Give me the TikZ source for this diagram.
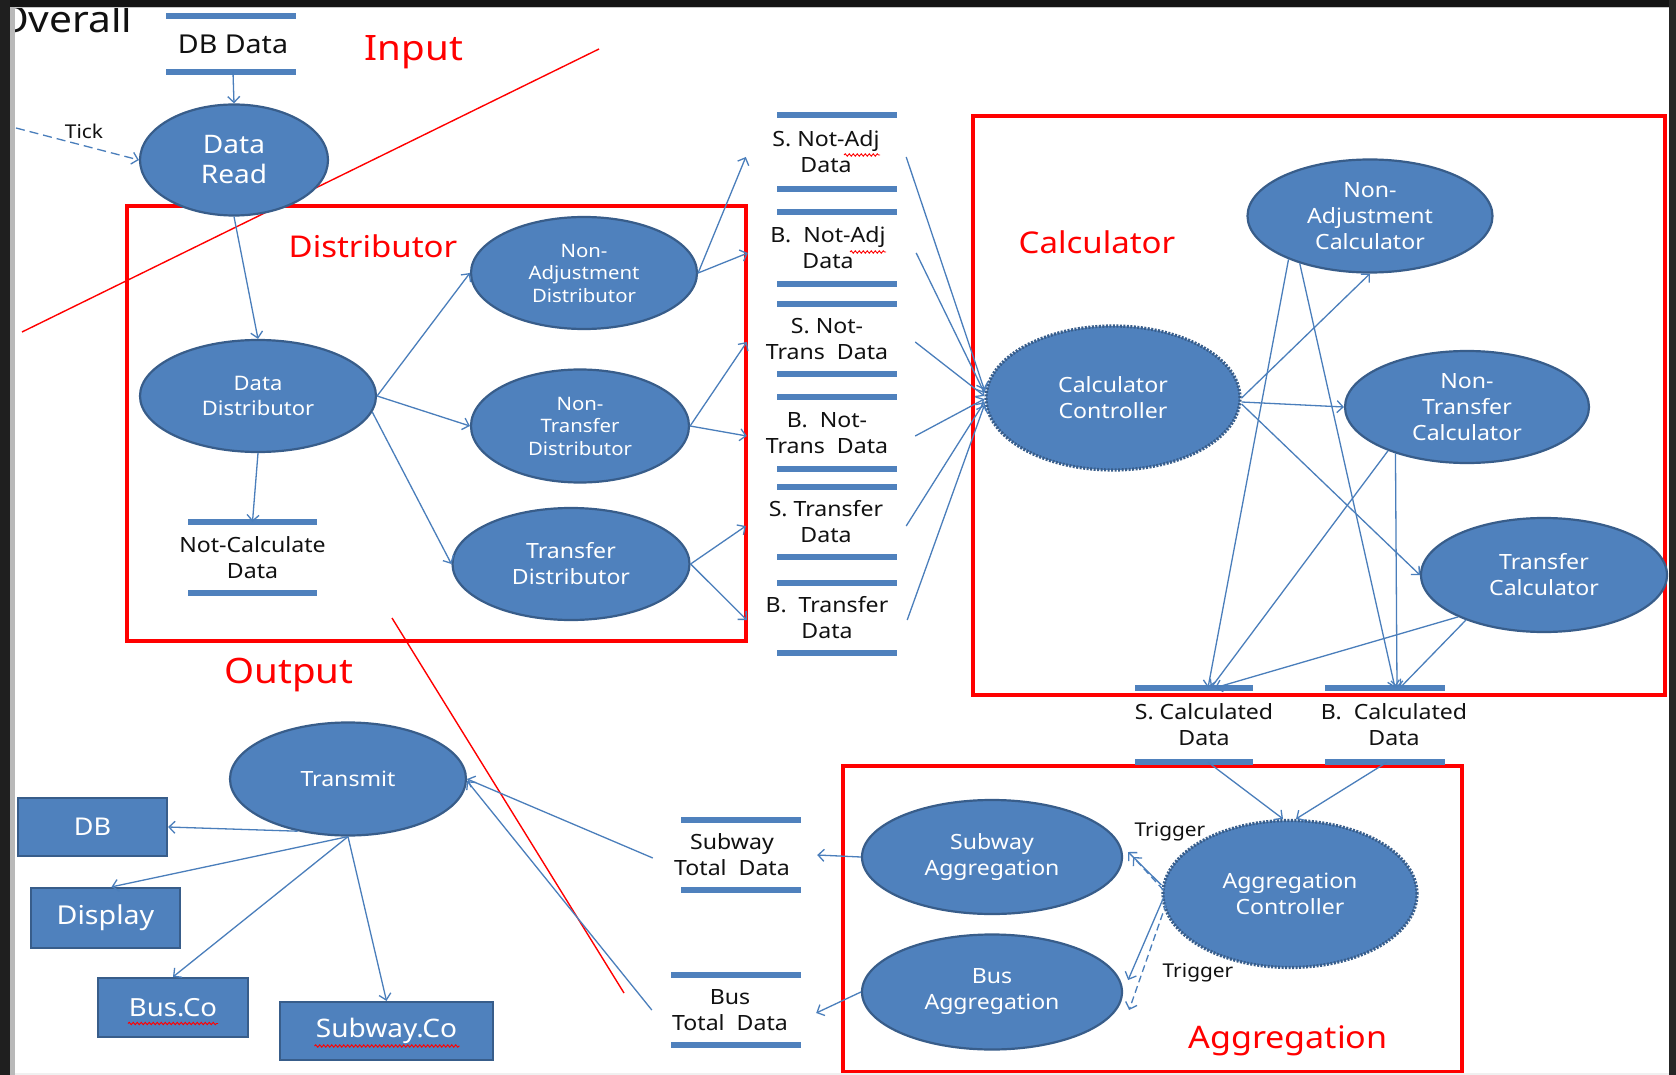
\documentclass[tikz,border=0pt]{standalone}
\usepackage{fontspec}
\setmainfont[FakeStretch=1.1]{Noto Sans}
\usetikzlibrary{shapes.geometric,arrows.meta,decorations.pathmorphing,calc}

\definecolor{procfill}{HTML}{4F81BD}
\definecolor{procedge}{HTML}{385D8A}
\definecolor{flow}{HTML}{4A7EBB}
\definecolor{zone}{HTML}{FF0000}
\definecolor{ink}{HTML}{111111}

% draws the two bars of a data store: node, x offset, half width, half gap
\newcommand\storebars[4]{%
  \draw[bar] ([shift={(#2-#3,-#4)}]#1.center) -- ([shift={(#2+#3,-#4)}]#1.center);
  \draw[bar] ([shift={(#2-#3,#4)}]#1.center) -- ([shift={(#2+#3,#4)}]#1.center);}
% red spelling squiggle below a word
\newcommand\squiggle[3]{%
  \draw[spell] ([shift={#2}]#1.center) -- ([shift={#3}]#1.center);}

\tikzset{
  proc/.style={ellipse, fill=procfill, draw=procedge, line width=2.2pt,
    text=white, inner sep=0pt, align=center},
  ctrl/.style={proc, dash pattern=on 2pt off 1.5pt, line width=3.2pt},
  sink/.style={rectangle, fill=procfill, draw=procedge, line width=2.2pt,
    text=white, inner sep=0pt},
  store/.style={align=center, text=ink, inner sep=0pt},
  bar/.style={draw=procfill, line width=5.5pt},
  flowline/.style={draw=flow, line width=1.3pt,
    -{Straight Barb[length=6pt,width=12pt]}},
  trigline/.style={flowline, dash pattern=on 7pt off 4pt},
  zonebox/.style={draw=zone, line width=3.5pt},
  zoneline/.style={draw=zone, line width=1.4pt},
  zonelabel/.style={text=zone, inner sep=0pt, anchor=base},
  spell/.style={draw=zone, line width=0.9pt, decorate,
    decoration={snake, amplitude=1.2pt, segment length=4pt}},
  f18/.style={font=\fontsize{18.5}{22.5}\selectfont},
  f20/.style={font=\fontsize{20}{25}\selectfont},
  f21/.style={font=\fontsize{21}{26}\selectfont},
}

\begin{document}
\begin{tikzpicture}[x=1pt,y=-1pt]
\useasboundingbox (0,0) rectangle (1676,1075);
\fill[white] (0,0) rectangle (1676,1075);

% title
\node[anchor=base west, inner sep=0pt, text=ink, font=\fontsize{37}{40}\selectfont]
  (title) at (-3,33) {Overall};

% ---------- zones ----------
\draw[zonebox] (127,206) rectangle (746,641);
\draw[zonebox] (973,116) rectangle (1665,695);
\draw[zonebox] (843,766) rectangle (1462,1072);
\draw[zoneline] (22,332) -- (599,49);
\draw[zoneline] (392,618) -- (624,993);

\node[zonelabel, font=\fontsize{35}{40}\selectfont] (lin) at (414,61) {Input};
\node[zonelabel, font=\fontsize{30}{34}\selectfont] (ldist) at (373,258) {Distributor};
\node[zonelabel, font=\fontsize{30}{34}\selectfont] (lcalc) at (1097,254) {Calculator};
\node[zonelabel, font=\fontsize{35}{40}\selectfont] (lout) at (289,683) {Output};
\node[zonelabel, font=\fontsize{31}{36}\selectfont] (lagg) at (1288,1048) {Aggregation};

% ---------- processes ----------
\node[proc, minimum width=188, minimum height=111, font=\fontsize{25.5}{30}\selectfont]
  (dr) at (234,160) {Data\\Read};
\node[proc, f20, minimum width=236, minimum height=112] (dd) at (258,396) {Data\\Distributor};
\node[proc, f18, minimum width=226, minimum height=112] (nad) at (584,273) {Non-\\Adjustment\\Distributor};
\node[proc, f18, minimum width=218, minimum height=113] (ntd) at (580,426) {Non-\\Transfer\\Distributor};
\node[proc, f21, minimum width=237, minimum height=112] (td) at (571,564) {Transfer\\Distributor};

\node[ctrl, f21, minimum width=254, minimum height=144] (cc) at (1113,398) {Calculator\\Controller};
\node[proc, f21, minimum width=245, minimum height=113] (nac) at (1370,216) {Non-\\Adjustment\\Calculator};
\node[proc, f21, minimum width=244, minimum height=112] (ntc) at (1467,407) {Non-\\Transfer\\Calculator};
\node[proc, f21, minimum width=246, minimum height=114] (tc) at (1544,575) {Transfer\\Calculator};

\node[ctrl, f21, minimum width=254, minimum height=147] (ac) at (1290,894) {Aggregation\\Controller};
\node[proc, f21, minimum width=260, minimum height=114] (sag) at (992,857) {Subway\\Aggregation};
\node[proc, f21, minimum width=260, minimum height=115] (bag) at (992,992) {Bus\\Aggregation};

\node[proc, f21, minimum width=236, minimum height=113] (tr) at (348,779) {Transmit};

% ---------- external sinks ----------
\node[sink, font=\fontsize{24.5}{28}\selectfont, minimum width=149, minimum height=58] (db) at (92.5,827) {DB};
\node[sink, font=\fontsize{26}{30}\selectfont, minimum width=149, minimum height=60] (disp) at (105.5,918) {Display};
\node[sink, font=\fontsize{25}{30}\selectfont, minimum width=150, minimum height=59] (busco) at (173,1007.5) {Bus.Co};
\node[sink, font=\fontsize{25.5}{30}\selectfont, minimum width=213, minimum height=58] (subco) at (386.5,1031) {Subway.Co};
\squiggle{busco}{(-45,16)}{(45,16)}
\squiggle{subco}{(-72,15)}{(73,15)}

% ---------- data stores ----------
\node[store, font=\fontsize{26}{30}\selectfont, minimum width=130, minimum height=56] (dbd) at (233,44) {DB Data};
\storebars{dbd}{-2}{65}{28}
\node[store, f21, minimum width=129, minimum height=71] (ncd) at (252.5,557.5) {Not-Calculate\\Data};
\storebars{ncd}{0}{64.5}{35.5}

\node[store, f21, minimum width=160, minimum height=74] (sna) at (826,152) {S. Not-Adj\\Data};
\storebars{sna}{11}{60}{37}
\node[store, f21, minimum width=160, minimum height=72] (bna) at (828,248) {B.\ \ Not-Adj\\Data};
\storebars{bna}{9}{60}{36}
\node[store, f21, minimum width=160, minimum height=70] (snt) at (827,339) {S. Not-\\Trans\ \ Data};
\storebars{snt}{10}{60}{35}
\node[store, f21, minimum width=160, minimum height=72] (bnt) at (827,433) {B.\ \ Not-\\Trans\ \ Data};
\storebars{bnt}{10}{60}{36}
\node[store, f21, minimum width=160, minimum height=70] (str) at (826,522) {S. Transfer\\Data};
\storebars{str}{11}{60}{35}
\node[store, f21, minimum width=160, minimum height=70] (btr) at (827,618) {B.\ \ Transfer\\Data};
\storebars{btr}{10}{60}{35}
\squiggle{sna}{(18,3)}{(54,3)}
\squiggle{bna}{(22,4)}{(58,4)}

\node[store, f21, minimum width=118, minimum height=74] (scd) at (1204,725) {S. Calculated\\Data};
\storebars{scd}{-10}{59}{37}
\node[store, f21, minimum width=120, minimum height=74] (bcd) at (1394,725) {B.\ \ Calculated\\Data};
\storebars{bcd}{-9}{60}{37}

\node[store, f21, minimum width=170, minimum height=70] (subT) at (732,855) {Subway\\Total\ \ Data};
\storebars{subT}{9}{60}{35}
\node[store, f21, minimum width=172, minimum height=70] (busT) at (730,1010) {Bus\\Total\ \ Data};
\storebars{busT}{6}{65}{35}

% ---------- flows: input and distribution ----------
\coordinate (tickin) at (16,128);
\draw[flowline] (dbd.south) -- (dr.north);
\draw[flowline, dash pattern=on 9pt off 5pt] (tickin) -- (dr.west);
\node[text=ink, inner sep=0pt, font=\fontsize{19}{22}\selectfont] (tick) at (84,131) {Tick};
\draw[flowline] (dr.south) -- (dd.north);
\draw[flowline] (dd.south) -- (ncd.north);
\draw[flowline] (dd.east) -- (nad.west);
\draw[flowline] (dd.east) -- (ntd.west);
\draw[flowline] (dd.-8) -- (td.west);
\draw[flowline] (nad.east) -- ([yshift=-5]sna.west);
\draw[flowline] (nad.east) -- ([yshift=-5]bna.west);
\draw[flowline] (ntd.east) -- ([yshift=-3]snt.west);
\draw[flowline] (ntd.east) -- ([yshift=-3]bnt.west);
\draw[flowline] (td.east) -- ([yshift=-4]str.west);
\draw[flowline] (td.east) -- ([yshift=-2]btr.west);

% ---------- flows: calculation ----------
\draw[flowline] ([yshift=-5]sna.east) -- ([yshift=8]cc.west);
\draw[flowline] ([yshift=-5,xshift=8]bna.east) -- ([yshift=5]cc.west);
\draw[flowline] ([yshift=-3,xshift=8]snt.east) -- ([yshift=2]cc.west);
\draw[flowline] ([yshift=-3,xshift=8]bnt.east) -- ([yshift=-1]cc.west);
\draw[flowline] ([yshift=-4]str.east) -- ([yshift=-4]cc.west);
\draw[flowline] ([yshift=-2]btr.east) -- ([yshift=-7]cc.west);

\draw[flowline] (cc.east) -- (nac.south);
\draw[flowline] ([yshift=-4]cc.east) -- (ntc.west);
\draw[flowline] ([yshift=-6]cc.east) -- (tc.west);

\draw[flowline] (nac.208) -- ([xshift=4]scd.north);
\draw[flowline] (nac.214) -- ([xshift=1]bcd.north);
\draw[flowline] (ntc.209) -- ([xshift=7]scd.north);
\draw[flowline] (ntc.213) -- ([xshift=3]bcd.north);
\draw[flowline] (tc.206) -- ([xshift=11]scd.north);
\draw[flowline] (tc.210) -- ([xshift=6]bcd.north);

% ---------- flows: aggregation ----------
\draw[flowline] ([xshift=4]scd.south) -- ([xshift=-7]ac.north);
\draw[flowline] ([xshift=-7]bcd.south) -- ([xshift=6]ac.north);

\draw[flowline] ([yshift=9]ac.west) -- ([xshift=5,yshift=5]sag.east);
\draw[trigline] ([xshift=2,yshift=4]ac.west) -- ([xshift=10]sag.east);
\draw[flowline] ([xshift=2,yshift=-4]ac.west) -- ([xshift=5,yshift=12]bag.east);
\draw[trigline] ([xshift=5,yshift=-9]ac.west) -- ([xshift=6,yshift=-18]bag.east);
\node[text=ink, inner sep=0pt, font=\fontsize{19}{22}\selectfont] (trig1) at (1170,832) {Trigger};
\node[text=ink, inner sep=0pt, font=\fontsize{19}{22}\selectfont] (trig2) at (1198,973) {Trigger};

\draw[flowline] (sag.west) -- (subT.east);
\draw[flowline] (bag.west) -- ([yshift=-3]busT.east);

% ---------- flows: output ----------
\draw[flowline] ([yshift=-3,xshift=6]subT.west) -- (tr.east);
\draw[flowline] ([xshift=8]busT.west) -- ([yshift=-2]tr.east);
\draw[flowline] (tr.226) -- (db.east);
\draw[flowline] (tr.south) -- ([xshift=6]disp.north);
\draw[flowline] (tr.south) -- (busco.north);
\draw[flowline] (tr.south) -- (subco.north);

% ---------- window frame ----------
\fill[black!92] (0,0) rectangle (1676,7);
\fill[gray!45] (10,7) rectangle (1669,8.5);
\fill[black!88] (0,0) rectangle (10,1075);
\fill[gray!55] (10,7) rectangle (14.5,1075);
\fill[black!85] (1669,0) rectangle (1676,1075);
\fill[gray!12] (14.5,1072.5) rectangle (1669,1075);
\end{tikzpicture}
\end{document}
